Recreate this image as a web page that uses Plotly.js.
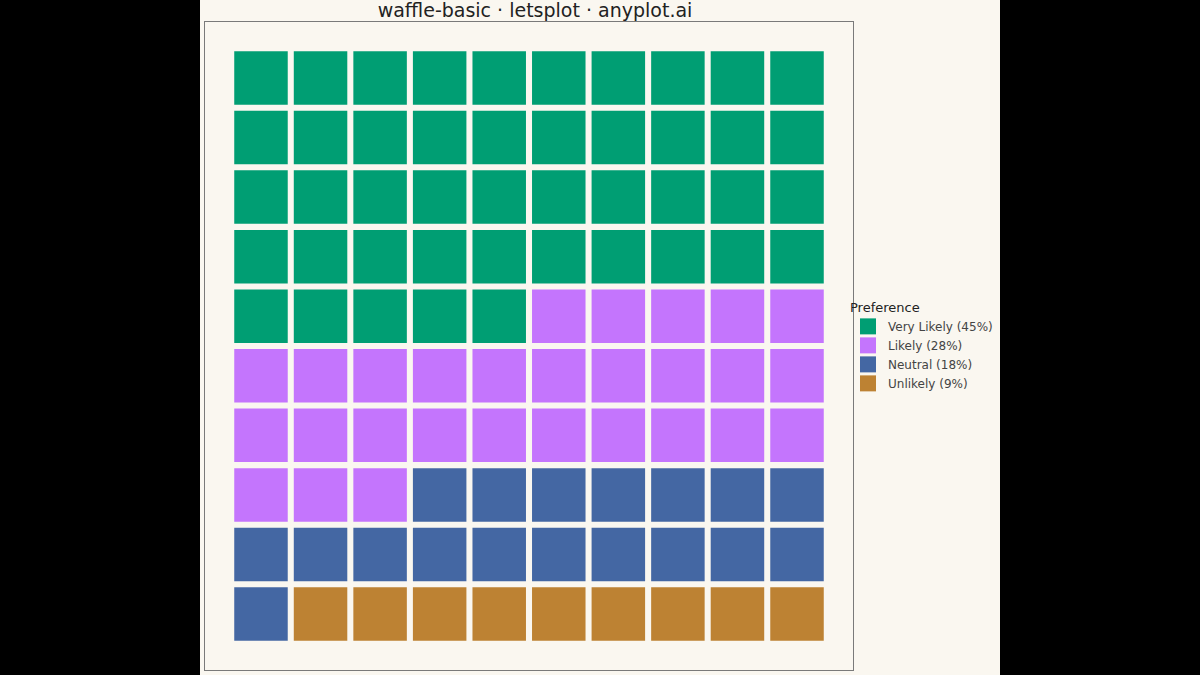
<!DOCTYPE html>
<html>
<head>
<meta charset="utf-8">
<script src="https://cdn.plot.ly/plotly-3.0.1.min.js"></script>
<style>
  html, body { margin: 0; padding: 0; background: #000000; width: 1200px; height: 675px; overflow: hidden; }
  #chart { position: absolute; left: 200px; top: 0; width: 800px; height: 675px; }
</style>
</head>
<body>
<div id="chart"></div>
<script>
// Data
const categories = ["Very Likely", "Likely", "Neutral", "Unlikely"];
const counts = [45, 28, 18, 9];
const colors = ["#009E73", "#C475FD", "#4467A3", "#BD8233"];
const gridCols = 10;
const gridRows = 10;

// Build waffle cells (fill row by row from top, left to right)
const traces = [];
let idx = 0;
const total = counts.reduce((a, b) => a + b, 0);
categories.forEach((cat, ci) => {
  const xs = [], ys = [];
  for (let k = 0; k < counts[ci]; k++) {
    const col = idx % gridCols;
    const row = Math.floor(idx / gridCols);
    xs.push(col);
    ys.push(gridRows - 1 - row);
    idx++;
  }
  const pct = Math.round(counts[ci] / total * 100);
  traces.push({
    type: "scatter",
    mode: "markers",
    x: xs,
    y: ys,
    name: cat + " (" + pct + "%)",
    marker: { symbol: "square", size: 53.5, color: colors[ci], line: { width: 0 } },
    hovertemplate: cat + "<extra></extra>"
  });
});

const bg = "#FAF7F0";
const layout = {
  width: 800,
  height: 675,
  paper_bgcolor: bg,
  plot_bgcolor: bg,
  margin: { l: 5, r: 147, t: 22, b: 5, autoexpand: false },
  font: { family: "DejaVu Sans, sans-serif", color: "#333333" },
  title: {
    text: "waffle-basic · letsplot · anyplot.ai",
    font: { size: 19, color: "#222222", family: "DejaVu Sans, sans-serif" },
    x: 0.41875, xref: "container", xanchor: "center",
    y: 0.984, yref: "container", yanchor: "middle"
  },
  xaxis: {
    range: [-0.94, 9.94], showgrid: false, zeroline: false, showticklabels: false,
    ticks: "", showline: true, mirror: true, linecolor: "#7a7a7a", linewidth: 1.2, fixedrange: true
  },
  yaxis: {
    range: [-0.94, 9.94], showgrid: false, zeroline: false, showticklabels: false,
    ticks: "", showline: true, mirror: true, linecolor: "#7a7a7a", linewidth: 1.2, fixedrange: true
  },
  showlegend: true,
  legend: {
    title: { text: "Preference", font: { size: 13, color: "#222222" } },
    font: { size: 12, color: "#444444" },
    bgcolor: "rgba(0,0,0,0)",
    borderwidth: 0,
    xref: "container", yref: "container",
    x: 0.81, xanchor: "left",
    y: 0.563, yanchor: "top",
    itemsizing: "trace",
    itemwidth: 30
  }
};

Plotly.newPlot("chart", traces, layout, { displayModeBar: false, staticPlot: true });
</script>
</body>
</html>
